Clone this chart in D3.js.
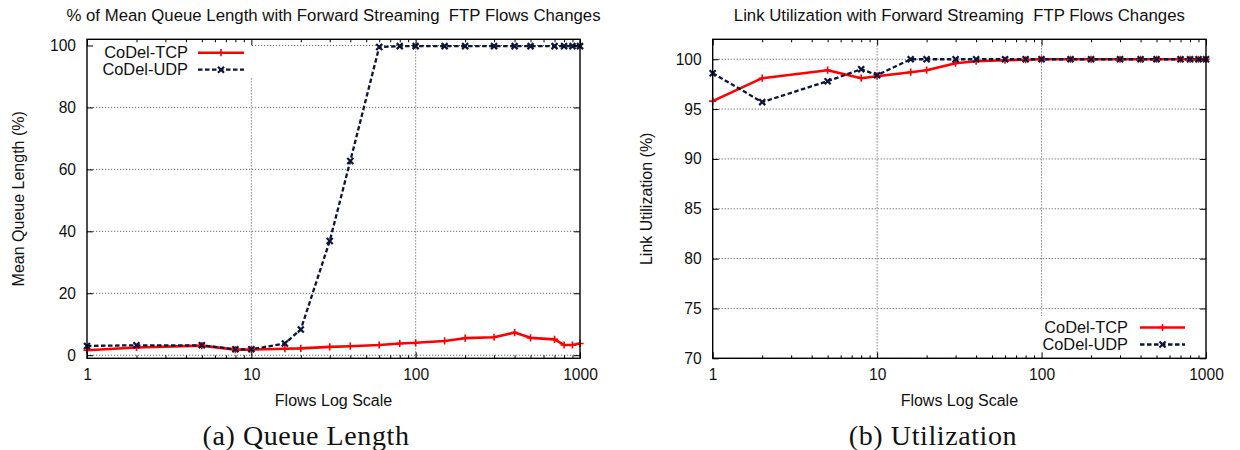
<!DOCTYPE html>
<html>
<head>
<meta charset="utf-8">
<script src="https://cdn.jsdelivr.net/npm/d3@7"></script>
<style>
  html, body { margin: 0; padding: 0; background: #fff; }
  svg { display: block; }
  text { font-family: "Liberation Sans", Arial, Helvetica, sans-serif; fill: #111; white-space: pre; }
  .caption { font-family: "Liberation Serif", "Times New Roman", serif; fill: #111; }
</style>
</head>
<body>
<svg id="fig" width="1240" height="450"></svg>
<script>
// Number of forward FTP flows (log scale)
const flows = [1, 2, 5, 8, 10, 16, 20, 30, 40, 60, 80, 100, 150, 200, 300, 400, 500, 700, 800, 900, 1000];

// (a) Mean queue length, % of buffer
const queueTCP = [1.6, 2.5, 3.1, 1.8, 1.8, 2.1, 2.2, 2.7, 2.9, 3.3, 3.8, 4.0, 4.6, 5.5, 5.8, 7.3, 5.6, 5.1, 3.3, 3.3, 3.8];
const queueUDP = [3.0, 3.2, 3.2, 1.9, 1.9, 3.8, 8.3, 36.9, 62.7, 99.5, 99.8, 99.8, 99.8, 99.8, 99.8, 99.8, 99.8, 99.8, 99.8, 99.8, 99.8];

// (b) Link utilization, %
const utilTCP = [95.8, 98.1, 98.9, 98.1, 98.3, 98.7, 98.9, 99.6, 99.8, 99.9, 99.95, 100, 100, 100, 100, 100, 100, 100, 100, 100, 100];
const utilUDP = [98.6, 95.7, 97.8, 99.0, 98.4, 100, 100, 100, 100, 100, 100, 100, 100, 100, 100, 100, 100, 100, 100, 100, 100];

const xTickValues = [1, 10, 100, 1000];
const queueTicks = [0, 20, 40, 60, 80, 100];
const utilTicks = [70, 75, 80, 85, 90, 95, 100];

const seriesNames = ["CoDel-TCP", "CoDel-UDP"];

const TCP_COLOR = "#ff0000";
const UDP_COLOR = "#0d1538";

const svg = d3.select("#fig");

function plusPath(s) { return `M${-s},0H${s}M0,${-s}V${s}`; }
function crossPath(s) { return `M${-s},${-s}L${s},${s}M${-s},${s}L${s},${-s}`; }

function drawPanel(cfg) {
  const { left, right, top, bottom, yDomain, yTicks, tcp, udp, title, ylabel, ylabelX, legend, caption, captionX } = cfg;
  const x = d3.scaleLog().domain([1, 1000]).range([left, right]);
  const y = d3.scaleLinear().domain(yDomain).range([bottom, top]);
  const g = svg.append("g");

  // grid
  const grid = g.append("g").attr("stroke", "#444").attr("stroke-width", 0.8)
    .attr("stroke-dasharray", "1.2,1.8").attr("fill", "none");
  grid.selectAll("line.h").data(yTicks).join("line")
    .attr("x1", left).attr("x2", right).attr("y1", d => y(d)).attr("y2", d => y(d));
  grid.selectAll("line.v").data(xTickValues.slice(1, -1)).join("line")
    .attr("y1", top).attr("y2", bottom).attr("x1", d => x(d)).attr("x2", d => x(d));

  // series
  const line = d3.line().x((d, i) => x(flows[i])).y(d => y(d));
  g.append("path").datum(tcp).attr("d", line).attr("fill", "none")
    .attr("stroke", TCP_COLOR).attr("stroke-width", 2.6).attr("stroke-linejoin", "round");
  g.append("path").datum(udp).attr("d", line).attr("fill", "none")
    .attr("stroke", UDP_COLOR).attr("stroke-width", 2.3).attr("stroke-dasharray", "4.5,2.5");

  g.append("g").selectAll("path").data(tcp).join("path")
    .attr("transform", (d, i) => `translate(${x(flows[i])},${y(d)})`)
    .attr("d", plusPath(3.6)).attr("stroke", TCP_COLOR).attr("stroke-width", 1.6);
  g.append("g").selectAll("path").data(udp).join("path")
    .attr("transform", (d, i) => `translate(${x(flows[i])},${y(d)})`)
    .attr("d", crossPath(3)).attr("stroke", UDP_COLOR).attr("stroke-width", 2.2);

  // opaque key
  const key = g.append("g");
  key.append("rect").attr("x", legend.x0).attr("y", legend.y0)
    .attr("width", legend.x1 - legend.x0).attr("height", legend.y1 - legend.y0).attr("fill", "#fff");
  seriesNames.forEach((name, i) => {
    const cy = legend.cy + i * 17;
    key.append("text").attr("x", legend.textRight).attr("y", cy).attr("dy", "0.35em")
      .attr("text-anchor", "end").style("font-size", "16.4px").text(name);
    const col = i === 0 ? TCP_COLOR : UDP_COLOR;
    const s = key.append("line").attr("x1", legend.sx0).attr("x2", legend.sx1)
      .attr("y1", cy).attr("y2", cy).attr("stroke", col).attr("stroke-width", i === 0 ? 2.6 : 2.3);
    if (i === 1) s.attr("stroke-dasharray", "4.5,2.5");
    key.append("path").attr("transform", `translate(${(legend.sx0 + legend.sx1) / 2},${cy})`)
      .attr("d", i === 0 ? plusPath(3.6) : crossPath(3))
      .attr("stroke", col).attr("stroke-width", i === 0 ? 1.6 : 2.2);
  });

  // axes with inward ticks
  const minor = x.ticks().filter(v => !xTickValues.includes(v));
  const styleAxis = sel => {
    sel.select(".domain").remove();
    sel.selectAll(".tick line").attr("stroke", "#000").attr("stroke-width", 1);
    sel.selectAll(".tick text").style("font-size", "15.6px").attr("fill", "#111")
      .style("font-family", "'Liberation Sans', Arial, sans-serif");
  };
  g.append("g").attr("transform", `translate(0,${bottom})`)
    .call(d3.axisBottom(x).tickValues(xTickValues).tickSize(-6).tickPadding(11).tickFormat(d3.format("d")))
    .call(styleAxis);
  g.append("g").attr("transform", `translate(0,${bottom})`)
    .call(d3.axisBottom(x).tickValues(minor).tickSize(-3).tickFormat("")).call(styleAxis);
  g.append("g").attr("transform", `translate(0,${top})`)
    .call(d3.axisTop(x).tickValues(xTickValues).tickSize(-6).tickFormat("")).call(styleAxis);
  g.append("g").attr("transform", `translate(0,${top})`)
    .call(d3.axisTop(x).tickValues(minor).tickSize(-3).tickFormat("")).call(styleAxis);
  g.append("g").attr("transform", `translate(${left},0)`)
    .call(d3.axisLeft(y).tickValues(yTicks).tickSize(-6).tickPadding(11).tickFormat(d3.format("d")))
    .call(styleAxis);
  g.append("g").attr("transform", `translate(${right},0)`)
    .call(d3.axisRight(y).tickValues(yTicks).tickSize(-6).tickFormat("")).call(styleAxis);

  // border
  g.append("rect").attr("x", left).attr("y", top).attr("width", right - left)
    .attr("height", bottom - top).attr("fill", "none").attr("stroke", "#000").attr("stroke-width", 1.4);

  // labels
  const cx = (left + right) / 2;
  g.append("text").attr("x", cx).attr("y", 21).attr("text-anchor", "middle")
    .style("font-size", "16.8px").text(title);
  g.append("text").attr("x", cx).attr("y", 406).attr("text-anchor", "middle")
    .style("font-size", "16px").text("Flows Log Scale");
  g.append("text").attr("transform", `translate(${ylabelX},${(top + bottom) / 2}) rotate(-90)`)
    .attr("text-anchor", "middle").style("font-size", "16px").text(ylabel);
  g.append("text").attr("class", "caption").attr("x", captionX).attr("y", 445)
    .attr("text-anchor", "middle").style("font-size", "28px").style("letter-spacing", "0.6px")
    .text(caption);
}

drawPanel({
  left: 87, right: 580, top: 39.3, bottom: 358.3,
  yDomain: [-1, 102], yTicks: queueTicks, tcp: queueTCP, udp: queueUDP,
  title: "% of Mean Queue Length with Forward Streaming  FTP Flows Changes",
  ylabel: "Mean Queue Length (%)", ylabelX: 24,
  legend: { x0: 88, x1: 252, y0: 40, y1: 77.5, textRight: 188, cy: 52.7, sx0: 198, sx1: 244 },
  caption: "(a) Queue Length", captionX: 306
});

drawPanel({
  left: 712.7, right: 1206, top: 39.3, bottom: 358.3,
  yDomain: [70, 102], yTicks: utilTicks, tcp: utilTCP, udp: utilUDP,
  title: "Link Utilization with Forward Streaming  FTP Flows Changes",
  ylabel: "Link Utilization (%)", ylabelX: 652,
  legend: { x0: 1038, x1: 1205, y0: 316, y1: 357.5, textRight: 1128, cy: 327.5, sx0: 1140, sx1: 1185 },
  caption: "(b) Utilization", captionX: 933
});
</script>
</body>
</html>
